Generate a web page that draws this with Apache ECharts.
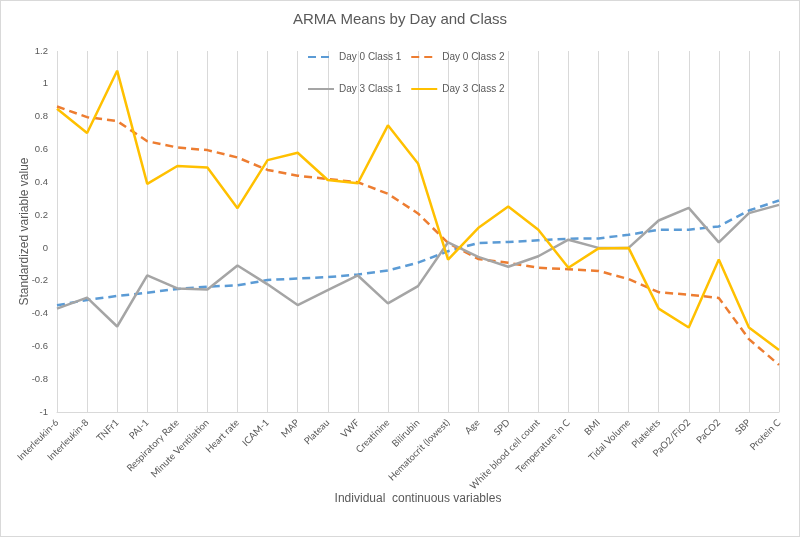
<!DOCTYPE html>
<html><head><meta charset="utf-8">
<script src="https://cdn.jsdelivr.net/npm/echarts@6/dist/echarts.min.js"></script>
<style>
html,body{margin:0;padding:0;background:#fff;}
#c{width:800px;height:537px;box-sizing:border-box;border:1px solid #d9d9d9;}
</style></head>
<body><div id="c"></div>
<script>
const categories = ["Interleukin-6","Interleukin-8","TNFr1","PAI-1","Respiratory Rate","Minute Ventilation","Heart rate","ICAM-1","MAP","Plateau","VWF","Creatinine","Bilirubin","Hematocrit (lowest)","Age","SPD","White blood cell count","Temperature in C","BMI","Tidal Volume","Platelets","PaO2/FiO2","PaCO2","SBP","Protein C"];
const day0Class1 = [-0.35,-0.317,-0.293,-0.273,-0.25,-0.236,-0.228,-0.196,-0.186,-0.178,-0.162,-0.138,-0.09,-0.02,0.03,0.036,0.046,0.056,0.058,0.08,0.111,0.111,0.131,0.228,0.289];
const day0Class2 = [0.862,0.797,0.773,0.65,0.612,0.596,0.551,0.475,0.44,0.42,0.40,0.33,0.21,0.03,-0.067,-0.091,-0.121,-0.13,-0.14,-0.19,-0.27,-0.285,-0.305,-0.556,-0.713];
const day3Class1 = [-0.37,-0.303,-0.479,-0.168,-0.247,-0.253,-0.107,-0.222,-0.348,-0.257,-0.168,-0.338,-0.233,0.034,-0.055,-0.115,-0.051,0.05,0.0,0.0,0.167,0.244,0.034,0.212,0.262];
const day3Class2 = [0.848,0.70,1.08,0.39,0.499,0.49,0.242,0.535,0.58,0.414,0.394,0.747,0.515,-0.071,0.121,0.252,0.111,-0.121,-0.003,0.0,-0.37,-0.485,-0.071,-0.485,-0.622];
const yTicks = {min:-1, max:1.2, interval:0.2};

const chart = echarts.init(document.getElementById('c'));
const txt = '#595959';
function ser(name, data, color, dashed){
  return {name, type:'line', data, symbol:'none', showSymbol:false, smooth:false,
    lineStyle:{color, width:2.5, type: dashed ? [8,5] : 'solid'},
    itemStyle:{color}, emphasis:{disabled:true}};
}
const legendCommon = {itemWidth:26, itemHeight:12, itemGap:9,
  itemStyle:{opacity:0},
  textStyle:{fontFamily:'Liberation Sans', fontSize:10, color:txt}};
chart.setOption({
  animation:false,
  title:{text:'ARMA Means by Day and Class', left:'center', top:6,
    textStyle:{fontFamily:'Liberation Sans', fontSize:15, fontWeight:'normal', color:txt}},
  legend:[
    Object.assign({data:['Day 0 Class 1','Day 0 Class 2'], left:301, top:46}, legendCommon),
    Object.assign({data:['Day 3 Class 1','Day 3 Class 2'], left:301, top:78}, legendCommon)
  ],
  grid:{left:56, right:20, top:50, bottom:124, containLabel:false, outerBoundsMode:'none'},
  xAxis:{type:'category', data:categories, boundaryGap:false,
    name:'Individual  continuous variables', nameLocation:'middle', nameGap:81, nameMoveOverlap:false,
    nameTextStyle:{fontFamily:'Liberation Sans', fontSize:12, color:txt},
    axisLine:{onZero:false, lineStyle:{color:'#d9d9d9', width:1}}, axisTick:{show:false},
    splitLine:{show:true, lineStyle:{color:'#d9d9d9', width:1}},
    axisLabel:{rotate:45, interval:0, margin:9, fontFamily:'Lato', fontSize:9.5, color:txt}},
  yAxis:{type:'value', min:yTicks.min, max:yTicks.max, interval:yTicks.interval,
    name:'Standardized variable value', nameLocation:'middle', nameGap:26, nameRotate:90, nameMoveOverlap:false,
    nameTextStyle:{fontFamily:'Liberation Sans', fontSize:12, color:txt},
    axisLine:{show:false}, axisTick:{show:false}, splitLine:{show:false},
    axisLabel:{fontFamily:'Liberation Sans', fontSize:9.5, color:txt, margin:9,
      formatter: v => String(Math.round(v*10)/10)}},
  series:[
    ser('Day 0 Class 1', day0Class1, '#5B9BD5', true),
    ser('Day 0 Class 2', day0Class2, '#ED7D31', true),
    ser('Day 3 Class 1', day3Class1, '#A5A5A5', false),
    ser('Day 3 Class 2', day3Class2, '#FFC000', false)
  ]
});
</script></body></html>
